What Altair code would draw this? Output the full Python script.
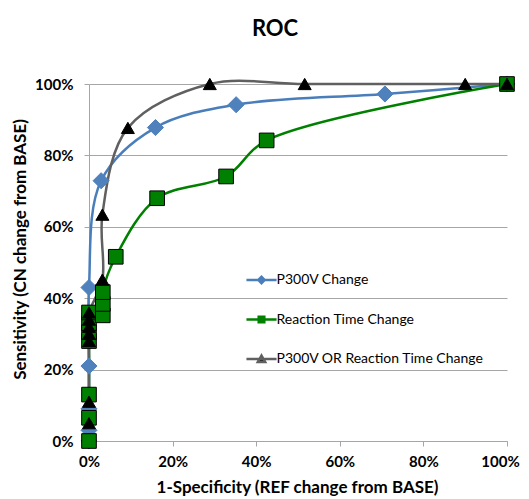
import altair as alt
import pandas as pd

series_names = ["P300V Change", "Reaction Time Change", "P300V OR Reaction Time Change"]

p300_x = [0, 0, 0, 0, 0, 2.9, 15.9, 35.2, 70.8, 100]
p300_y = [0, 3, 9, 21, 43, 72.9, 87.8, 94.2, 97.2, 100]

rt_x = [0, 0, 0, 0, 0, 0, 0, 3.3, 3.3, 3.3, 6.4, 16.3, 32.8, 42.5, 100]
rt_y = [0, 6.5, 13, 28, 30.5, 33, 36, 35.2, 38.4, 41.7, 51.6, 68.0, 74.1, 84.2, 100]

or_x = [0, 0, 0, 0, 0, 0, 0, 3.2, 3.2, 9.3, 28.9, 51.6, 90.0, 100]
or_y = [5, 11, 28, 30, 32, 34, 36, 45.2, 63.4, 87.7, 100, 100, 100, 100]

tick_values = [0, 20, 40, 60, 80, 100]

line_colors = ["#4A7EBB", "#008000", "#606060"]
fill_colors = ["#4F81BD", "#008000", "#000000"]
outline_colors = ["#4F81BD", "#000000", "#000000"]
shapes = ["diamond", "square", "triangle-up"]
marker_sizes = [260, 169, 340]
legend_paths = [
    "M-4.3,0H4.3M-0.9,0L0,-0.9L0.9,0L0,0.9Z",
    "M-4.3,0H4.3M-0.8,-0.8H0.8V0.8H-0.8Z",
    "M-4.3,0H4.3M0,-1L1.05,0.85H-1.05Z",
]

rows = []
for name, xs, ys in zip(series_names, [p300_x, rt_x, or_x], [p300_y, rt_y, or_y]):
    for i, (xv, yv) in enumerate(zip(xs, ys)):
        rows.append({"series": name, "x": xv, "y": yv, "idx": i})
df = pd.DataFrame(rows)

FONT = "Lato"
GRID = "#A6A6A6"

xscale = alt.Scale(domain=[0, 100], nice=False, zero=True)
yscale = alt.Scale(domain=[0, 100], nice=False, zero=True)

xaxis = alt.Axis(
    values=tick_values, labelExpr="datum.value + '%'",
    title="1-Specificity (REF change from BASE)",
    grid=False, domainColor=GRID, tickColor=GRID, tickSize=5, labelPadding=8,
    labelFlush=False, labelOverlap=False,
    labelOffset={"condition": {"test": "datum.value === 100", "value": -7}, "value": 0},
    labelFont=FONT, labelFontSize=15, labelFontWeight="bold", labelColor="black",
    titleFont=FONT, titleFontSize=17, titleFontWeight="bold", titleColor="black",
    titleX=208, titleY=46, titleBaseline="middle", titleAlign="center",
)
yaxis = alt.Axis(
    values=tick_values, labelExpr="datum.value + '%'",
    title="Sensitivity (CN change from BASE)",
    grid=True, gridColor=GRID, domainColor=GRID, tickColor=GRID, tickSize=5, labelPadding=11,
    labelFlush=False, labelOverlap=False,
    labelFont=FONT, labelFontSize=15, labelFontWeight="bold", labelColor="black",
    titleFont=FONT, titleFontSize=17, titleFontWeight="bold", titleColor="black",
    titleX=-69, titleY=165, titleAngle=270, titleBaseline="middle", titleAlign="center",
)

lines = alt.Chart(df).mark_line(interpolate="catmull-rom", strokeWidth=2.5).encode(
    x=alt.X("x:Q", scale=xscale, axis=xaxis),
    y=alt.Y("y:Q", scale=yscale, axis=yaxis),
    color=alt.Color("series:N", scale=alt.Scale(domain=series_names, range=line_colors), legend=None),
    order=alt.Order("idx:Q"),
)

points = alt.Chart(df).mark_point(filled=True, strokeWidth=1, opacity=1).encode(
    x=alt.X("x:Q", scale=xscale),
    y=alt.Y("y:Q", scale=yscale),
    shape=alt.Shape("series:N", scale=alt.Scale(domain=series_names, range=shapes), legend=None),
    fill=alt.Fill("series:N", scale=alt.Scale(domain=series_names, range=fill_colors), legend=None),
    stroke=alt.Stroke("series:N", scale=alt.Scale(domain=series_names, range=outline_colors), legend=None),
    size=alt.Size("series:N", scale=alt.Scale(domain=series_names, range=marker_sizes), legend=None),
)

legend_def = alt.Legend(
    title=None, orient="none", legendX=150.5, legendY=189, direction="vertical",
    symbolSize=49, symbolStrokeWidth=2.5, symbolOffset=15, labelOffset=8, labelLimit=400,
    labelFont=FONT, labelFontSize=14, labelColor="black", rowPadding=22.5, padding=0,
    symbolOpacity=1,
)
legend_layer = alt.Chart(df).transform_filter(alt.datum.x < -1).mark_point(filled=True, opacity=1).encode(
    x=alt.X("x:Q", scale=xscale),
    y=alt.Y("y:Q", scale=yscale),
    shape=alt.Shape("series:N", scale=alt.Scale(domain=series_names, range=legend_paths), legend=legend_def),
    fill=alt.Fill("series:N", scale=alt.Scale(domain=series_names, range=fill_colors), legend=legend_def),
    stroke=alt.Stroke("series:N", scale=alt.Scale(domain=series_names, range=line_colors), legend=legend_def),
)

chart = alt.layer(lines, points, legend_layer).resolve_scale(
    shape="independent", fill="independent", stroke="independent", color="independent", size="independent"
).properties(
    width=418, height=357,
    title=alt.Title("ROC", font=FONT, fontSize=22, fontWeight="bold", color="black",
                    anchor="middle", dx=-23, offset=16, baseline="alphabetic"),
    autosize=alt.AutoSizeParams(type="none"),
    padding={"left": 81, "top": 76, "right": 14, "bottom": 58},
    background="white",
).configure_view(stroke=None)

chart.save("out.html", embed_options={"renderer": "svg", "actions": False})
